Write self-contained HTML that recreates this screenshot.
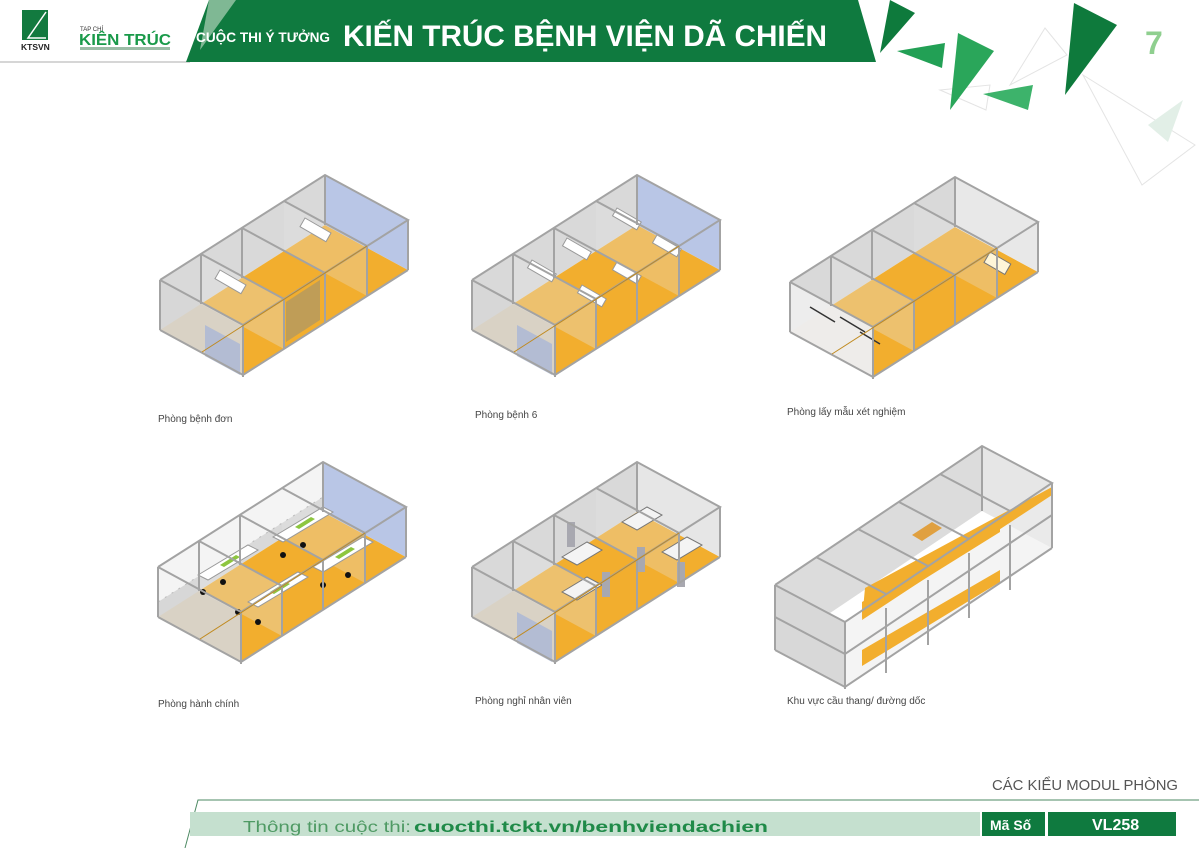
<!DOCTYPE html>
<html><head><meta charset="utf-8"><style>
html,body{margin:0;padding:0;background:#fff}
svg{display:block}
text{font-family:"Liberation Sans",sans-serif}
</style></head><body>
<svg width="1199" height="848" viewBox="0 0 1199 848" xmlns="http://www.w3.org/2000/svg">
<defs>
<g id="base">
  <polygon points="0,0 165,-105 165,-55 0,50" fill="#d9d9d9"/>
  <polygon points="0,50 165,-55 248,-10 83,95" fill="#f2ae2e"/>
  <polygon points="0,0 83,45 83,95 0,50" fill="#d6d6d6" opacity="0.9"/>
  <polygon points="41,-26 124,19 124,69 41,24" fill="#e6e6e6" opacity="0.35"/>
  <polygon points="124,-79 207,-34 207,16 124,-29" fill="#e6e6e6" opacity="0.3"/>
</g>
<g id="frame" fill="none" stroke="#a3a3a3" stroke-width="2">
  <polyline points="0,0 165,-105 248,-60 83,45 0,0"/>
  <polyline points="0,50 83,95 248,-10"/>
  <line x1="0" y1="0" x2="0" y2="50"/><line x1="83" y1="45" x2="83" y2="97"/>
  <line x1="248" y1="-60" x2="248" y2="-10"/><line x1="165" y1="-105" x2="165" y2="-55"/>
  <line x1="82" y1="-52" x2="165" y2="-7"/><line x1="165" y1="-7" x2="165" y2="43"/>
  <line x1="41" y1="-26" x2="124" y2="19"/><line x1="124" y1="19" x2="124" y2="69"/>
  <line x1="124" y1="-79" x2="207" y2="-34"/><line x1="207" y1="-34" x2="207" y2="16"/>
  <line x1="41" y1="-26" x2="41" y2="24"/><line x1="82" y1="-52" x2="82" y2="-2"/>
  <line x1="42" y1="72" x2="207" y2="-34" stroke-width="1" stroke="#c08a20"/>
</g>
</defs>

<!-- header -->
<line x1="0" y1="62" x2="190" y2="62" stroke="#c9c9c9" stroke-width="1.5"/>
<polygon points="209,0 858,0 876,62 186,62" fill="#0f7a3f"/>
<polygon points="209,0 236,0 200,50" fill="#7fb894"/>
<polygon points="22,10 48,10 48,40 22,40" fill="#127a3f"/>
<polyline points="46,12 28,38 46,38" fill="none" stroke="#fff" stroke-width="1.5"/>
<text x="21" y="50" font-size="8.5" fill="#222" font-weight="bold">KTSVN</text>
<text x="80" y="31" font-size="6" fill="#333">TAP CHÍ</text>
<text x="79" y="45" font-size="16" font-weight="bold" fill="#1a9a4a" textLength="92" lengthAdjust="spacingAndGlyphs">KIÊN TRÚC</text>
<rect x="80" y="47" width="90" height="3" fill="#9bbca6"/>
<text x="196" y="42" font-size="14" font-weight="bold" fill="#fff" textLength="134" lengthAdjust="spacingAndGlyphs">CUỘC THI Ý TƯỞNG</text>
<text x="343" y="46" font-size="30" font-weight="bold" fill="#fff" textLength="484" lengthAdjust="spacingAndGlyphs">KIẾN TRÚC BỆNH VIỆN DÃ CHIẾN</text>

<!-- decorative triangles -->
<polygon points="1045,28 1067,55 1010,85" fill="none" stroke="#e4e4e4"/>
<polygon points="940,90 990,85 986,110" fill="none" stroke="#e4e4e4"/>
<polygon points="1083,75 1195,145 1142,185" fill="none" stroke="#e4e4e4"/>
<polygon points="1183,100 1148,125 1168,142" fill="#e2efe7"/>
<polygon points="890,0 915,13 880,53" fill="#0e7a3c"/>
<polygon points="897,51 945,43 942,68" fill="#22a055"/>
<polygon points="958,33 994,51 950,110" fill="#2aa65a"/>
<polygon points="983,94 1033,85 1028,110" fill="#3db36b"/>
<polygon points="1074,3 1117,25 1065,95" fill="#0e7a3c"/>
<text x="1145" y="54" font-size="32" font-weight="bold" fill="#8fcf8f">7</text>

<!-- module 1 -->
<g transform="translate(160,280)">
  <use href="#base"/>
  <polygon points="165,-105 248,-60 248,-10 165,-55" fill="#b9c6e6"/>
  <polygon points="45,45 80,64 80,95 45,76" fill="#a9b6d6" opacity="0.8"/>
  <polygon points="126,22 160,-0 160,40 126,62" fill="#8c8c80" opacity="0.5"/>
  <rect x="60" y="-10" width="30" height="10" fill="#fff" stroke="#999" transform="rotate(30 60 -10)"/>
  <rect x="145" y="-62" width="30" height="10" fill="#fff" stroke="#999" transform="rotate(30 145 -62)"/>
  <use href="#frame"/>
</g>
<!-- module 2 -->
<g transform="translate(472,280)">
  <use href="#base"/>
  <polygon points="165,-105 248,-60 248,-10 165,-55" fill="#b9c6e6"/>
  <polygon points="45,45 80,64 80,95 45,76" fill="#a9b6d6" opacity="0.8"/>
  <rect x="60" y="-20" width="28" height="9" fill="#fff" stroke="#999" transform="rotate(30 60 -20)"/>
  <rect x="95" y="-42" width="28" height="9" fill="#fff" stroke="#999" transform="rotate(30 95 -42)"/>
  <rect x="145" y="-72" width="28" height="9" fill="#fff" stroke="#999" transform="rotate(30 145 -72)"/>
  <rect x="110" y="5" width="28" height="9" fill="#fff" stroke="#999" transform="rotate(30 110 5)"/>
  <rect x="145" y="-18" width="28" height="9" fill="#fff" stroke="#999" transform="rotate(30 145 -18)"/>
  <rect x="185" y="-45" width="28" height="9" fill="#fff" stroke="#999" transform="rotate(30 185 -45)"/>
  <use href="#frame"/>
</g>
<!-- module 3 -->
<g transform="translate(790,282)">
  <use href="#base"/>
  <polygon points="165,-105 248,-60 248,-10 165,-55" fill="#e8e8e8"/>
  <polygon points="0,0 83,45 83,95 0,50" fill="#f2f2f2" opacity="0.8"/>
  <rect x="200" y="-30" width="24" height="12" fill="#fff6d8" stroke="#777" transform="rotate(30 200 -30)"/>
  <g stroke="#333" stroke-width="1.5"><line x1="20" y1="25" x2="45" y2="40"/><line x1="50" y1="35" x2="75" y2="50"/><line x1="70" y1="50" x2="90" y2="62"/></g>
  <use href="#frame"/>
</g>
<!-- module 4 -->
<g transform="translate(158,567)">
  <use href="#base"/>
  <polygon points="165,-105 248,-60 248,-10 165,-55" fill="#b9c6e6"/>
  <polygon points="0,0 165,-105 165,-70 0,35" fill="#f4f4f4" stroke="#bbb" stroke-dasharray="2 6"/>
  <g fill="#fff" stroke="#999">
    <polygon points="40,8 90,-22 100,-17 50,13"/><polygon points="90,35 140,5 150,10 100,40"/>
    <polygon points="115,-30 165,-60 175,-55 125,-25"/><polygon points="155,0 205,-30 215,-25 165,5"/>
  </g>
  <g fill="#8dc63f"><polygon points="62,-2 78,-12 82,-10 66,0"/><polygon points="112,25 128,15 132,17 116,27"/><polygon points="137,-40 153,-50 157,-48 141,-38"/><polygon points="177,-10 193,-20 197,-18 181,-8"/></g>
  <g fill="#111"><circle cx="45" cy="25" r="3"/><circle cx="65" cy="15" r="3"/><circle cx="80" cy="45" r="3"/><circle cx="100" cy="55" r="3"/><circle cx="125" cy="-12" r="3"/><circle cx="145" cy="-22" r="3"/><circle cx="165" cy="18" r="3"/><circle cx="190" cy="8" r="3"/></g>
  <use href="#frame"/>
</g>
<!-- module 5 -->
<g transform="translate(472,567)">
  <use href="#base"/>
  <polygon points="165,-105 248,-60 248,-10 165,-55" fill="#e6e6e6"/>
  <polygon points="45,45 80,64 80,95 45,76" fill="#a9b6d6" opacity="0.8"/>
  <g fill="#f4f4f4" stroke="#777">
    <polygon points="90,-10 115,-25 130,-17 105,-2"/><polygon points="150,-45 175,-60 190,-52 165,-37"/>
    <polygon points="90,25 115,10 130,18 105,33"/><polygon points="190,-15 215,-30 230,-22 205,-7"/>
  </g>
  <g fill="#a8a8b0"><rect x="95" y="-45" width="8" height="25"/><rect x="130" y="5" width="8" height="25"/><rect x="165" y="-20" width="8" height="25"/><rect x="205" y="-5" width="8" height="25"/></g>
  <use href="#frame"/>
</g>

<!-- module 6 -->
<g>
  <polygon points="775,585 982,446 982,511 775,650" fill="#dcdcdc"/>
  <polygon points="982,446 1052,483 1052,548 982,511" fill="#e6e6e6"/>
  <polygon points="775,585 845,622 845,687 775,650" fill="#d8d8d8"/>
  <polygon points="845,622 1052,483 1052,548 845,687" fill="#ececec" opacity="0.6"/>
  <polygon points="865,588 1052,487 1052,495 862,620" fill="#f2ae2e"/>
  <polygon points="862,602 1000,520 1000,532 862,618" fill="#f2ae2e"/>
  <polygon points="862,650 1000,570 1000,582 862,666" fill="#f2ae2e"/>
  <polygon points="912,535 932,522 942,528 922,541" fill="#e0a040"/>
  <g fill="none" stroke="#a3a3a3" stroke-width="2">
    <polyline points="775,585 982,446 1052,483 845,622 775,585"/>
    <polyline points="775,617 845,654 1052,515"/>
    <polyline points="775,650 845,687 1052,548"/>
    <line x1="775" y1="585" x2="775" y2="650"/><line x1="845" y1="622" x2="845" y2="689"/>
    <line x1="982" y1="446" x2="982" y2="511"/><line x1="1052" y1="483" x2="1052" y2="548"/>
    <line x1="886" y1="608" x2="886" y2="673"/><line x1="928" y1="580" x2="928" y2="645"/>
    <line x1="969" y1="553" x2="969" y2="618"/><line x1="1010" y1="525" x2="1010" y2="590"/>
    <line x1="816" y1="557" x2="886" y2="594"/><line x1="858" y1="529" x2="928" y2="566"/>
    <line x1="899" y1="502" x2="969" y2="539"/><line x1="940" y1="474" x2="1010" y2="511"/>
  </g>
</g>

<!-- labels -->
<g font-size="10" fill="#444">
  <text x="158" y="422">Phòng bệnh đơn</text>
  <text x="475" y="418">Phòng bệnh 6</text>
  <text x="787" y="415">Phòng lấy mẫu xét nghiệm</text>
  <text x="158" y="707">Phòng hành chính</text>
  <text x="475" y="704">Phòng nghỉ nhân viên</text>
  <text x="787" y="704">Khu vực cầu thang/ đường dốc</text>
</g>
<text x="1178" y="790" font-size="15" fill="#555" text-anchor="end" textLength="186" lengthAdjust="spacingAndGlyphs">CÁC KIỂU MODUL PHÒNG</text>

<!-- footer -->
<polyline points="185,848 198,800 1199,800" fill="none" stroke="#4d8a63" stroke-width="1"/>
<rect x="190" y="812" width="790" height="24" fill="#c5e0cf"/>
<text x="243" y="832" font-size="16" fill="#4f9a64" textLength="168" lengthAdjust="spacingAndGlyphs">Thông tin cuộc thi:</text>
<text x="414" y="832" font-size="16" font-weight="bold" fill="#1f8a48" textLength="354" lengthAdjust="spacingAndGlyphs">cuocthi.tckt.vn/benhviendachien</text>
<rect x="982" y="812" width="63" height="24" fill="#0f7a3f"/>
<rect x="1048" y="812" width="128" height="24" fill="#0f7a3f"/>
<text x="990" y="830" font-size="14" font-weight="bold" fill="#fff">Mã Số</text>
<text x="1092" y="830" font-size="16" font-weight="bold" fill="#fff">VL258</text>
</svg>
</body></html>
